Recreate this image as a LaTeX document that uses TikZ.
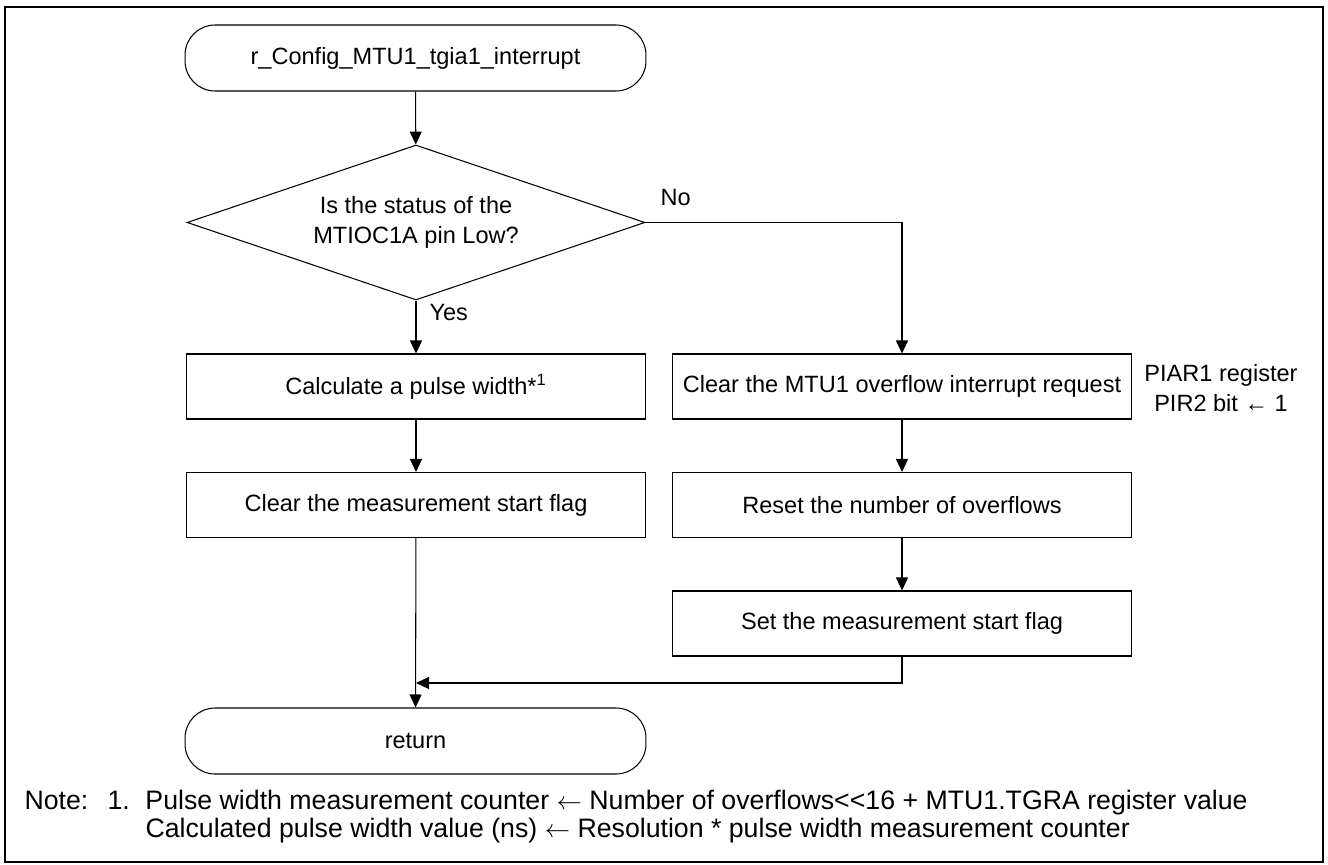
\documentclass[tikz,border=0pt]{standalone}
\usepackage{fontspec}
\setmainfont{Liberation Sans}
\usepackage{tikz}
\usetikzlibrary{shapes.geometric}
\usetikzlibrary{arrows.meta}
\tikzset{
	proc/.style={draw, shape=rectangle, minimum width=9.2cm, minimum height=1.3cm, inner sep=0pt},
	term/.style={draw, shape=rectangle, rounded corners=0.6cm, minimum width=9.22cm, minimum height=1.32cm, inner sep=0pt},
	decision/.style={draw, shape=diamond, aspect=2.95, minimum width=9.16cm, minimum height=3.1cm, inner sep=0pt, align=center},
	lbl/.style={inner sep=0pt},
	flow/.style={-{Triangle[length=0.26cm, width=0.24cm]}}
}

\begin{document}
\begin{tikzpicture}[x=0.02cm, y=-0.02cm, line width=0.6pt, font=\fontsize{13.4}{17}\selectfont]
				% Paths, nodes and wires:
				\useasboundingbox (0, 0) rectangle (1328, 865);
				\draw[line width=1.2pt] (5, 7) rectangle (1323, 862);
				\node[term](N1) at (415.5, 58){r\_Config\_MTU1\_tgia1\_interrupt};
				\node[decision](N2) at (416, 222.5){Is the status of the\\MTIOC1A pin Low?};
				\node[proc](N3) at (416, 386.5){Calculate a pulse width*\textsuperscript{1}};
				\node[proc](N4) at (902, 386.5){Clear the MTU1 overflow interrupt request};
				\node[proc](N5) at (416, 505){Clear the measurement start flag};
				\node[proc](N6) at (902, 505){Reset the number of overflows};
				\node[proc](N7) at (902, 623.5){Set the measurement start flag};
				\node[term](N8) at (415.5, 741){return};
				\coordinate (M1) at (416, 683);
				\node[lbl, anchor=west](L1) at (660, 198){No};
				\node[lbl, anchor=west](L2) at (429, 313){Yes};
				\node[lbl, align=center](A1) at (1221, 388){PIAR1 register\\PIR2 bit ← 1};
				\node[lbl, anchor=west, font=\fontsize{15.2}{15.9}\selectfont](T1) at (24, 818){\begin{tabular}{@{}p{1.66cm}@{}p{0.76cm}@{}l@{}}
					Note: & 1. & Pulse width measurement counter $\leftarrow$ Number of overflows<\kern0pt<16 + MTU1.TGRA register value\\
					& & Calculated pulse width value (ns) $\leftarrow$ Resolution * pulse width measurement counter
				\end{tabular}};
				\draw[flow] (N1) -- (N2);
				\draw[flow] (N2) -- (N3);
				\draw[flow] (N2.east) -| (N4);
				\draw[flow] (N3) -- (N5);
				\draw[flow] (N4) -- (N6);
				\draw[flow] (N6) -- (N7);
				\draw[flow] (N5) -- (N8);
				\draw[flow] (N7) |- (M1);
\end{tikzpicture}
\end{document}
